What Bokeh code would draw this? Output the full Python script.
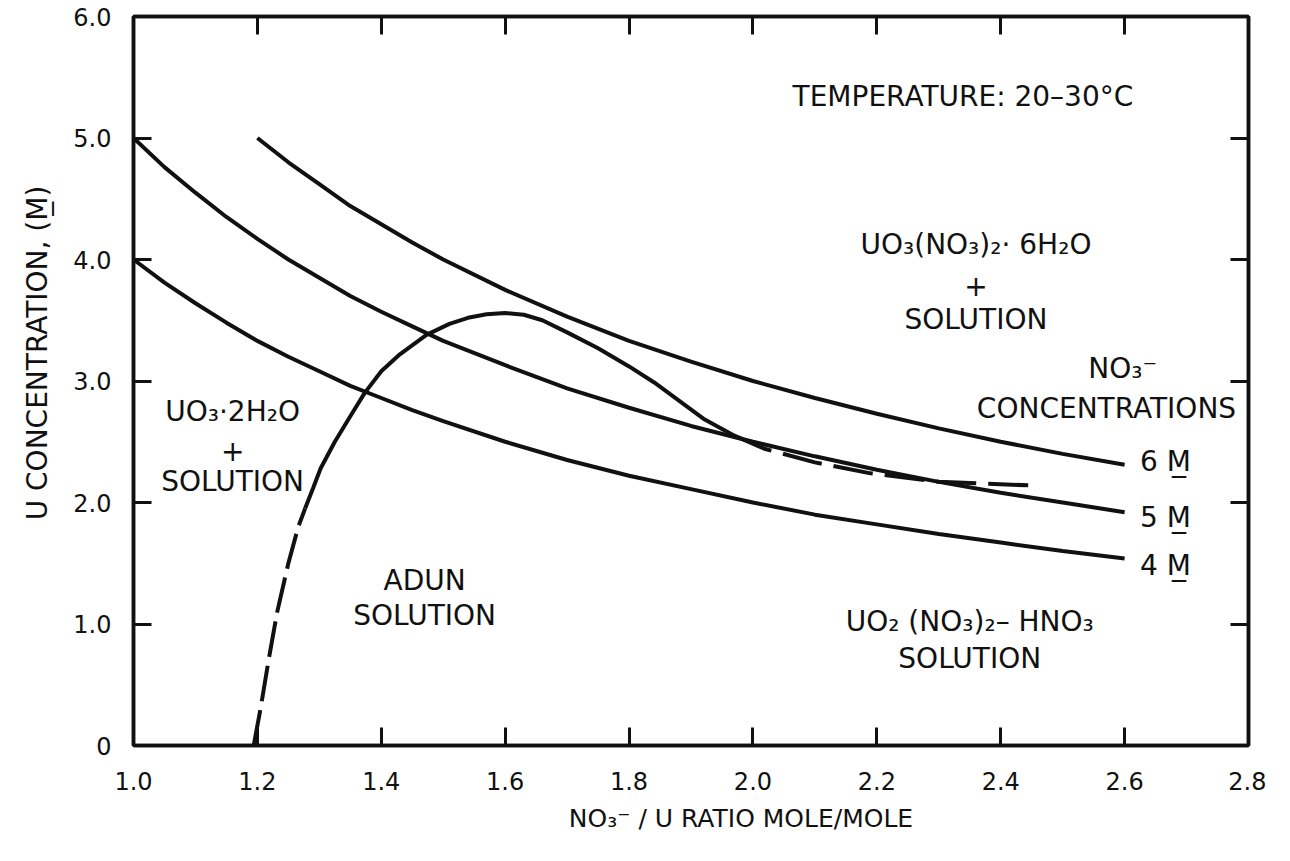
from bokeh.plotting import figure
from bokeh.models import Label, LinearAxis, FixedTicker, PrintfTickFormatter, Range1d
from bokeh.embed import file_html
from bokeh.resources import INLINE

# ---------------- data ----------------
x_ticks = [1.0, 1.2, 1.4, 1.6, 1.8, 2.0, 2.2, 2.4, 2.6, 2.8]
x_tick_labels = ["1.0", "1.2", "1.4", "1.6", "1.8", "2.0", "2.2", "2.4", "2.6", "2.8"]
y_ticks = [0, 1, 2, 3, 4, 5, 6]
y_tick_labels = ["0", "1.0", "2.0", "3.0", "4.0", "5.0", "6.0"]

# NO3- concentration isolines (U concentration, M)
m6_x = [1.2, 1.25, 1.3, 1.35, 1.4, 1.45, 1.5, 1.6, 1.7, 1.8, 1.9, 2.0, 2.1, 2.2, 2.3, 2.4, 2.5, 2.6]
m6_y = [5.00, 4.80, 4.62, 4.44, 4.29, 4.14, 4.00, 3.75, 3.53, 3.33, 3.16, 3.00, 2.86, 2.73, 2.61, 2.50, 2.40, 2.31]

m5_x = [1.0, 1.05, 1.1, 1.15, 1.2, 1.25, 1.3, 1.35, 1.4, 1.45, 1.5, 1.6, 1.7, 1.8, 1.9, 2.0, 2.1, 2.2, 2.3, 2.4, 2.5, 2.6]
m5_y = [5.00, 4.76, 4.55, 4.35, 4.17, 4.00, 3.85, 3.70, 3.57, 3.45, 3.33, 3.13, 2.94, 2.78, 2.63, 2.50, 2.38, 2.27, 2.17, 2.08, 2.00, 1.92]

m4_x = [1.0, 1.05, 1.1, 1.15, 1.2, 1.25, 1.3, 1.35, 1.4, 1.45, 1.5, 1.6, 1.7, 1.8, 1.9, 2.0, 2.1, 2.2, 2.3, 2.4, 2.5, 2.6]
m4_y = [4.00, 3.81, 3.64, 3.48, 3.33, 3.20, 3.08, 2.96, 2.86, 2.76, 2.67, 2.50, 2.35, 2.22, 2.11, 2.00, 1.90, 1.82, 1.74, 1.67, 1.60, 1.54]

# ADUN field boundary: dashed lower part, solid middle part, dashed tail
adun_low_x = [1.194, 1.205, 1.218, 1.232, 1.250, 1.266, 1.277]
adun_low_y = [0.00, 0.30, 0.70, 1.10, 1.50, 1.80, 1.95]

adun_mid_x = [1.277, 1.29, 1.302, 1.325, 1.35, 1.373, 1.40, 1.43, 1.473, 1.51, 1.54, 1.57, 1.60,
              1.63, 1.66, 1.70, 1.75, 1.80, 1.84, 1.88, 1.92, 1.97]
adun_mid_y = [1.95, 2.12, 2.28, 2.50, 2.71, 2.90, 3.08, 3.22, 3.38, 3.47, 3.52, 3.55, 3.56,
              3.545, 3.50, 3.40, 3.27, 3.12, 2.99, 2.84, 2.69, 2.55]

adun_tail_x = [1.97, 2.02, 2.10, 2.19, 2.30, 2.45]
adun_tail_y = [2.55, 2.44, 2.33, 2.24, 2.17, 2.14]

# ---------------- figure ----------------
FONT = "DejaVu Sans"
INK = "#111111"
EM = "\u2003"

p = figure(frame_width=1115, frame_height=729,
           x_range=Range1d(1.0, 2.8), y_range=Range1d(0, 6),
           output_backend="svg", toolbar_location=None,
           min_border_left=133, min_border_right=18,
           min_border_top=16, min_border_bottom=80,
           x_axis_label=EM * 4 + "NO\u2083\u207b / U RATIO MOLE/MOLE",
           y_axis_label=EM * 2 + "U CONCENTRATION, (M\u0332)")
p.grid.visible = False
p.background_fill_color = "white"
p.border_fill_color = "white"
p.outline_line_color = INK
p.outline_line_width = 3.5


def style_axis(ax, ticks, labels, show_labels):
    ax.ticker = FixedTicker(ticks=ticks)
    ax.formatter = PrintfTickFormatter(format="%.1f")
    ax.major_tick_in = 18
    ax.major_tick_out = 0
    ax.minor_tick_line_color = None
    ax.major_tick_line_width = 3
    ax.major_tick_line_color = INK
    ax.axis_line_width = 3.5
    ax.axis_line_color = INK
    if show_labels:
        ax.major_label_overrides = dict(zip(ticks, labels))
        ax.major_label_text_font = FONT
        ax.major_label_text_font_size = "24px"
        ax.major_label_text_color = INK
        ax.axis_label_text_font = FONT
        ax.axis_label_text_font_style = "normal"
        ax.axis_label_text_color = INK
    else:
        ax.major_label_overrides = {t: "" for t in ticks}
        ax.major_label_text_font_size = "0px"
        ax.major_label_standoff = 0


style_axis(p.xaxis[0], x_ticks, x_tick_labels, True)
style_axis(p.yaxis[0], y_ticks, y_tick_labels, True)
p.xaxis[0].major_label_standoff = 26
p.yaxis[0].major_label_standoff = 22
p.xaxis[0].axis_label_text_font_size = "25px"
p.yaxis[0].axis_label_text_font_size = "28px"
p.xaxis[0].axis_label_standoff = 11
p.yaxis[0].axis_label_standoff = 16

top_ax = LinearAxis()
style_axis(top_ax, x_ticks, x_tick_labels, False)
p.add_layout(top_ax, "above")
right_ax = LinearAxis()
style_axis(right_ax, y_ticks, y_tick_labels, False)
p.add_layout(right_ax, "right")

# curves
LW = 4
p.line(m6_x, m6_y, line_color=INK, line_width=LW)
p.line(m5_x, m5_y, line_color=INK, line_width=LW)
p.line(m4_x, m4_y, line_color=INK, line_width=LW)
p.line(adun_low_x, adun_low_y, line_color=INK, line_width=LW, line_dash="36 9")
p.line(adun_mid_x, adun_mid_y, line_color=INK, line_width=LW)
p.line(adun_tail_x, adun_tail_y, line_color=INK, line_width=LW, line_dash="40 12")


def lab(x, y, text, align="center", size="28px"):
    p.add_layout(Label(x=x, y=y, text=text, text_font=FONT, text_font_size=size,
                       text_color=INK, text_align=align, text_baseline="middle"))


lab(2.614, 5.34, "TEMPERATURE: 20\u201330\u00b0C", align="right")

lab(1.16, 2.75, "UO\u2083\u00b72H\u2082O")
lab(1.16, 2.43, "+")
lab(1.16, 2.17, "SOLUTION")

lab(1.47, 1.354, "ADUN")
lab(1.47, 1.07, "SOLUTION")

lab(2.36, 4.12, "UO\u2083(NO\u2083)\u2082\u00b7 6H\u2082O")
lab(2.36, 3.79, "+")
lab(2.36, 3.51, "SOLUTION")

lab(2.597, 3.10, "NO\u2083\u207b")
lab(2.78, 2.77, "CONCENTRATIONS", align="right")

lab(2.625, 2.34, "6 M\u0332", align="left")
lab(2.625, 1.88, "5 M\u0332", align="left")
lab(2.625, 1.48, "4 M\u0332", align="left")

lab(2.35, 1.02, "UO\u2082 (NO\u2083)\u2082\u2013 HNO\u2083")
lab(2.35, 0.72, "SOLUTION")

open("out.html", "w").write(file_html(p, INLINE))
